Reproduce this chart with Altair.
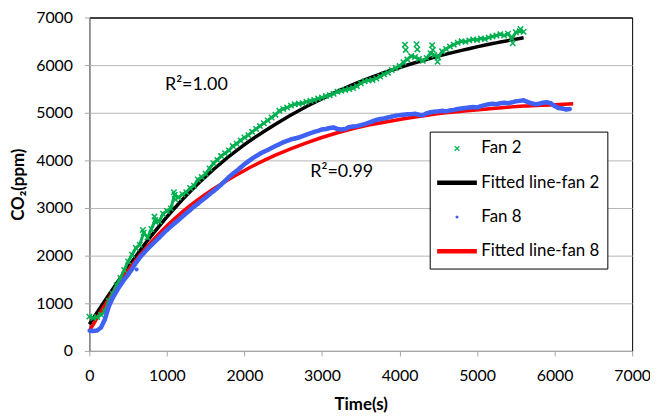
import altair as alt
import pandas as pd

# ---------------- data ----------------
series_names = ["Fan 2", "Fitted line-fan 2", "Fan 8", "Fitted line-fan 8"]
series_colors = ["#00b050", "#000000", "#4062f4", "#ff0000"]

sample_step = 50  # s between logged samples

fan2_ppm = [
    720, 690, 710, 760, 830, 1050, 1200, 1380, 1530, 1700,
    1880, 2020, 2160, 2230, 2480, 2380, 2560, 2750, 2720, 2880,
    2940, 2990, 3280, 3220, 3290, 3330, 3420, 3470, 3600, 3650,
    3720, 3830, 3940, 4010, 4090, 4150, 4210, 4300, 4350, 4420,
    4480, 4530, 4600, 4660, 4720, 4780, 4840, 4900, 4960, 5040,
    5080, 5110, 5150, 5180, 5190, 5200, 5230, 5250, 5270, 5300,
    5320, 5350, 5370, 5400, 5440, 5460, 5480, 5500, 5520, 5560,
    5620, 5660, 5680, 5690, 5720, 5760, 5810, 5840, 5900, 5940,
    5980, 6060, 6120, 6190, 6170, 6130, 6090, 6150, 6250, 6210,
    6160, 6290, 6340, 6390, 6430, 6470, 6500, 6490, 6520, 6540,
    6530, 6560, 6550, 6580, 6600, 6620, 6650, 6620, 6660, 6560,
    6690, 6710, 6700,
]
fan2_extra_t = [690, 840, 860, 1090, 1110, 4070, 4080, 4220, 4230, 4420, 4430, 4490, 5460, 5560]
fan2_extra_ppm = [2540, 2820, 2700, 3330, 3180, 6430, 6320, 6440, 6330, 6420, 6320, 6070, 6460, 6760]

fan8_ppm = [
    425, 420, 430, 490, 660, 930, 1110, 1250, 1380, 1500,
    1600, 1720, 1850, 1960, 2050, 2140, 2220, 2300, 2380, 2460,
    2540, 2610, 2680, 2750, 2820, 2890, 2960, 3030, 3090, 3160,
    3220, 3290, 3350, 3420, 3490, 3570, 3650, 3720, 3780, 3850,
    3920, 3980, 4040, 4090, 4140, 4180, 4220, 4260, 4300, 4340,
    4380, 4410, 4440, 4460, 4480, 4510, 4540, 4570, 4600, 4620,
    4650, 4660, 4680, 4690, 4660, 4650, 4660, 4700, 4710, 4720,
    4740, 4760, 4790, 4820, 4850, 4870, 4880, 4900, 4920, 4940,
    4950, 4960, 4970, 4970, 4980, 4960, 4950, 4990, 5010, 5020,
    5030, 5040, 5030, 5050, 5060, 5080, 5090, 5100, 5110, 5120,
    5110, 5140, 5160, 5180, 5190, 5180, 5200, 5210, 5200, 5220,
    5240, 5250, 5260, 5230, 5200, 5180, 5190, 5210, 5220, 5200,
    5140, 5100, 5090, 5070, 5080,
]
fan8_extra_t = [610]
fan8_extra_ppm = [1710]

fit2_t = [0, 400, 800, 1200, 1600, 2000, 2400, 2800, 3200, 3600, 4000, 4400, 4800, 5200, 5600]
fit2_ppm = [560, 1530, 2420, 3180, 3810, 4330, 4760, 5130, 5450, 5720, 5950, 6145, 6310, 6455, 6575]

fit8_t = [0, 400, 800, 1200, 1600, 2000, 2400, 2800, 3200, 3600, 4000, 4400, 4800, 5200, 5600, 6000, 6240]
fit8_ppm = [420, 1470, 2290, 2920, 3400, 3790, 4110, 4370, 4580, 4740, 4860, 4960, 5030, 5090, 5140, 5170, 5190]

notes_text = ["R²=1.00", "R²=0.99"]
notes_t = [975, 2850]
notes_ppm = [5590, 3760]

axis_ticks = [0, 1000, 2000, 3000, 4000, 5000, 6000, 7000]

# ---------------- tables ----------------
fan2 = pd.DataFrame({
    "t": [i * sample_step for i in range(len(fan2_ppm))] + fan2_extra_t,
    "ppm": fan2_ppm + fan2_extra_ppm,
    "series": "Fan 2",
})
fan2_line = pd.DataFrame({"t": [i * sample_step for i in range(len(fan2_ppm))], "ppm": fan2_ppm})
fan8 = pd.DataFrame({
    "t": [i * sample_step for i in range(len(fan8_ppm))] + fan8_extra_t,
    "ppm": fan8_ppm + fan8_extra_ppm,
    "series": "Fan 8",
})
fan8_line = pd.DataFrame({"t": [i * sample_step for i in range(len(fan8_ppm))], "ppm": fan8_ppm})
fit2 = pd.DataFrame({"t": fit2_t, "ppm": fit2_ppm, "series": "Fitted line-fan 2"})
fit8 = pd.DataFrame({"t": fit8_t, "ppm": fit8_ppm, "series": "Fitted line-fan 8"})
notes = pd.DataFrame({"t": notes_t, "ppm": notes_ppm, "label": notes_text})

FONT = "Lato"
XPATH = "M-1,-1L1,1M-1,1L1,-1"


def per_entry(mapping, default):
    expr = ""
    for k, v in mapping.items():
        val = f"'{v}'" if isinstance(v, str) else str(v)
        expr += f"datum.value === '{k}' ? {val} : "
    expr += f"'{default}'" if isinstance(default, str) else str(default)
    return alt.ExprRef(expr)


legend = alt.Legend(
    title=None,
    orient="none",
    legendX=343,
    legendY=115,
    padding=7,
    strokeColor="black",
    fillColor="white",
    cornerRadius=0,
    labelFont=FONT,
    labelFontSize=17,
    labelColor="black",
    clipHeight=20,
    rowPadding=14.5,
    symbolOffset=12,
    labelOffset=16,
    symbolOpacity=1,
    symbolType=per_entry({"Fan 2": XPATH, "Fan 8": "circle"}, "stroke"),
    symbolSize=per_entry({"Fan 2": 22, "Fan 8": 10}, 1600),
    symbolStrokeWidth=per_entry({"Fan 2": 1.3, "Fan 8": 0}, 4.5),
    symbolStrokeColor=per_entry({"Fan 2": series_colors[0], "Fitted line-fan 2": series_colors[1],
                                 "Fan 8": series_colors[2]}, series_colors[3]),
    symbolFillColor=per_entry({"Fan 8": series_colors[2]}, "transparent"),
)

color = alt.Color(
    "series:N",
    scale=alt.Scale(domain=series_names, range=series_colors),
    legend=legend,
)

x = alt.X(
    "t:Q",
    scale=alt.Scale(domain=[0, 7000], nice=False),
    axis=alt.Axis(
        values=axis_ticks, grid=False, title="Time(s)", labelFlush=False, format="d",
        labelPadding=12, titlePadding=13,
    ),
)
y = alt.Y(
    "ppm:Q",
    scale=alt.Scale(domain=[0, 7000], nice=False),
    axis=alt.Axis(
        values=axis_ticks, grid=True, title="CO₂(ppm)", format="d",
        labelPadding=12, titlePadding=8,
        gridColor={"condition": {"test": "datum.value >= 7000", "value": "black"}, "value": "#b5b5b5"},
    ),
)

fit2_layer = alt.Chart(fit2).mark_line(strokeWidth=3.5, interpolate="monotone").encode(x=x, y=y, color=color)
fit8_layer = alt.Chart(fit8).mark_line(strokeWidth=3.5, interpolate="monotone").encode(x=x, y=y, color=color)
fan2_band = alt.Chart(fan2_line).mark_line(strokeWidth=3, color=series_colors[0]).encode(x=x, y=y)
fan2_pts = alt.Chart(fan2).mark_point(shape=XPATH, filled=False, size=30, strokeWidth=1.5, opacity=1).encode(
    x=x, y=y, color=color)
fan8_band = alt.Chart(fan8_line).mark_line(strokeWidth=4.5, color=series_colors[2]).encode(x=x, y=y)
fan8_pts = alt.Chart(fan8).mark_point(shape="circle", filled=True, size=16, opacity=1).encode(
    x=x, y=y, color=color)
note_layer = alt.Chart(notes).mark_text(
    align="left", baseline="middle", font=FONT, fontSize=18, color="black"
).encode(x=x, y=y, text="label:N")

chart = alt.layer(
    fit2_layer, fit8_layer, fan2_band, fan2_pts, fan8_band, fan8_pts, note_layer
).properties(
    width=547,
    height=336,
    padding={"left": 82, "top": 8, "right": 18, "bottom": 64},
    autosize=alt.AutoSizeParams(type="none"),
).configure_view(
    stroke="black", strokeWidth=1
).configure_axis(
    domainColor="#a6a6a6",
    tickColor="#a6a6a6",
    tickSize=5,
    labelFont=FONT,
    labelFontSize=16,
    labelColor="black",
    titleFont=FONT,
    titleFontSize=17,
    titleFontWeight="bold",
    titleColor="black",
)

chart.save("out.html", embed_options={"renderer": "svg", "actions": False})
